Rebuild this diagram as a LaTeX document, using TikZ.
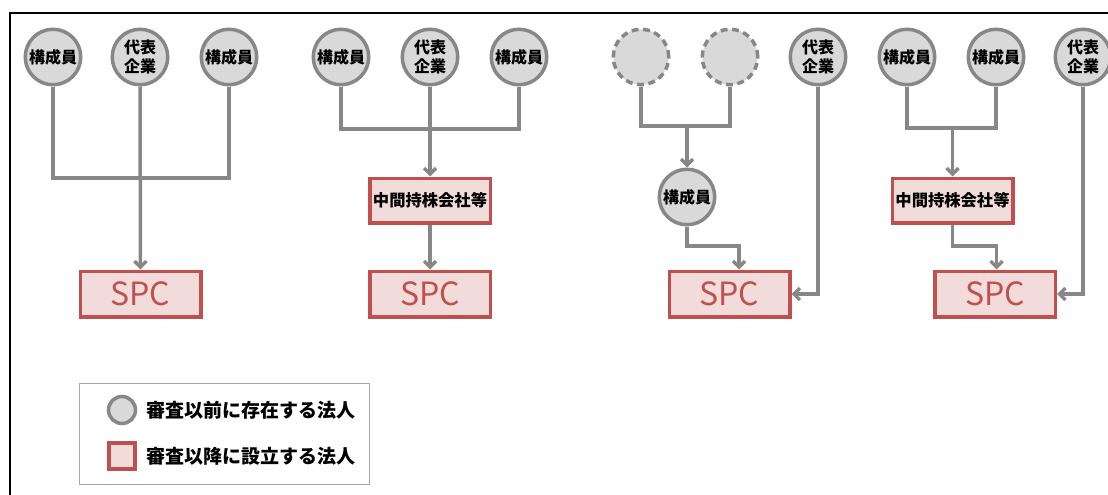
\documentclass[tikz,border=0pt]{standalone}
\usepackage{fontspec}
\newfontfamily\jp{Noto Sans CJK JP}
\usetikzlibrary{arrows.meta,calc}
\definecolor{cfill}{HTML}{D9D9D9}
\definecolor{cline}{HTML}{878787}
\definecolor{bfill}{HTML}{F2DCDB}
\definecolor{bline}{HTML}{C0504D}
\definecolor{lgline}{HTML}{A6A6A6}
\tikzset{
  org/.style={circle,draw=cline,fill=cfill,line width=3.5pt,minimum size=55.5pt,inner sep=0pt,
    align=center,font=\jp\bfseries\fontsize{16}{19.5}\selectfont},
  orgdash/.style={org,dash pattern=on 7pt off 4.5pt},
  spcbox/.style={rectangle,draw=bline,fill=bfill,line width=3.5pt,minimum width=120.5pt,minimum height=45.5pt,
    inner sep=0pt,text=bline,font=\jp\fontsize{32}{32}\selectfont},
  midbox/.style={rectangle,draw=bline,fill=bfill,line width=3.5pt,minimum width=120.5pt,minimum height=44.5pt,
    inner sep=0pt,font=\jp\bfseries\fontsize{16.3}{16.3}\selectfont},
  conn/.style={draw=cline,line width=3.5pt},
  arr/.style={conn,-{Straight Barb[length=6pt,width=12pt,line width=3.5pt]}},
  lgtext/.style={anchor=west,inner sep=0pt,font=\jp\bfseries\fontsize{19}{19}\selectfont}
}
\begin{document}
\begin{tikzpicture}[x=1pt,y=-1pt]
\useasboundingbox (0,0) rectangle (1108,495);
% outer frame
\draw[line width=2pt,black] (9.5,495) -- (9.5,13.5) -- (1108,13.5);

% ---------- diagram 1
\node[org] (a1) at (53,57) {構成員};
\node[org] (a2) at (140,57) {代表\\企業};
\node[org] (a3) at (229,57) {構成員};
\node[spcbox] (s1) at (140.5,294) {SPC};
\coordinate (j1) at (140,178);
\draw[conn] (a1.south) |- (j1) -| (a3.south);
\draw[arr] (a2.south) -- (s1.north);

% ---------- diagram 2
\node[org] (b1) at (341,57) {構成員};
\node[org] (b2) at (430,57) {代表\\企業};
\node[org] (b3) at (519,57) {構成員};
\node[midbox] (m2) at (430,200.5) {中間持株会社等};
\node[spcbox] (s2) at (430,294) {SPC};
\coordinate (j2) at (430,129);
\draw[conn] (b1.south) |- (j2) -| (b3.south);
\draw[arr] (b2.south) -- (m2.north);
\draw[arr] (m2.south) -- (s2.north);

% ---------- diagram 3
\node[orgdash] (c1) at (641,57) {};
\node[orgdash] (c2) at (730,57) {};
\node[org] (c3) at (818,57) {代表\\企業};
\node[org] (m3) at (687,197) {構成員};
\node[spcbox] (s3) at (729.5,294) {SPC};
\coordinate (j3) at (687,126);
\coordinate (k3) at (739,246);
\draw[conn] (c1.south) |- (j3) -| (c2.south);
\draw[arr] (j3) -- (m3.north);
\draw[arr] (m3.south) |- (k3) -- (k3 |- s3.north);
\draw[arr] (c3.south) |- (s3.east);

% ---------- diagram 4
\node[org] (e1) at (907,57) {構成員};
\node[org] (e2) at (996,57) {構成員};
\node[org] (e3) at (1083,57) {代表\\企業};
\node[midbox] (m4) at (952.5,200.5) {中間持株会社等};
\node[spcbox] (s4) at (995,294) {SPC};
\coordinate (j4) at (952.5,128);
\coordinate (k4) at (996.5,246);
\draw[conn] (e1.south) |- (j4) -| (e2.south);
\draw[arr] (j4) -- (m4.north);
\draw[arr] (m4.south) |- (k4) -- (k4 |- s4.north);
\draw[arr] (e3.south) |- (s4.east);

% ---------- legend
\node[draw=lgline,line width=1.5pt,minimum width=290pt,minimum height=101pt,inner sep=0pt] (lg) at (224.5,434) {};
\node[circle,draw=cline,fill=cfill,line width=3.5pt,minimum size=27pt,inner sep=0pt] (lc) at (122,410) {};
\node[rectangle,draw=bline,fill=bfill,line width=3.5pt,minimum size=26pt,inner sep=0pt] (lr) at (122,456) {};
\node[lgtext] (lt1) at (146,410) {審査以前に存在する法人};
\node[lgtext] (lt2) at (146,456) {審査以降に設立する法人};
\end{tikzpicture}
\end{document}
